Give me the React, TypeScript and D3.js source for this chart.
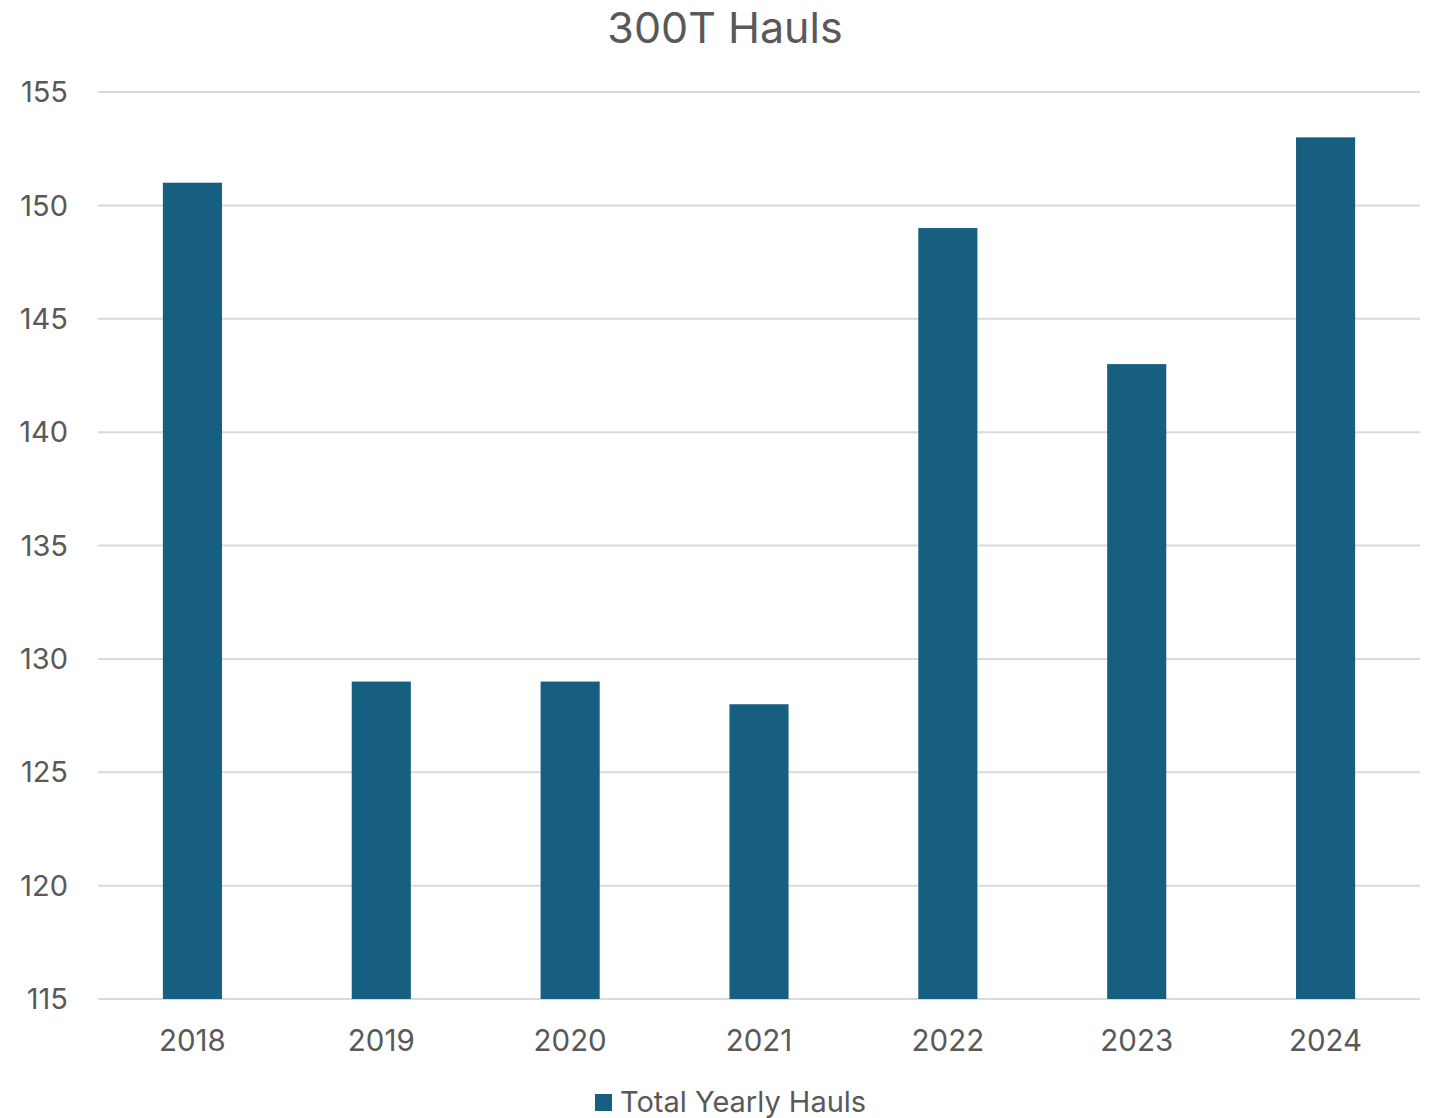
import React from "react";
import * as d3 from "d3";

const categories = ["2018", "2019", "2020", "2021", "2022", "2023", "2024"];
const values = [151, 129, 129, 128, 149, 143, 153];
const yTicks = [115, 120, 125, 130, 135, 140, 145, 150, 155];
const seriesName = "Total Yearly Hauls";
const title = "300T Hauls";

const W = 1430;
const H = 1118;
const left = 98;
const right = 1420;
const top = 92;
const bottom = 999;
const FONT = "Inter, 'Open Sans', sans-serif";
const TEXT = "#595959";
const BAR = "#175F80";

export default function App() {
  const x = d3
    .scaleBand<string>()
    .domain(categories)
    .range([left, right])
    .paddingInner(0.687)
    .paddingOuter(0.3435);
  const y = d3.scaleLinear().domain([115, 155]).range([bottom, top]);

  return (
    <svg
      width={W}
      height={H}
      style={{ position: "absolute", left: 0, top: 0, background: "#fff" }}
      fontFamily={FONT}
    >
      <text x={725} y={43} textAnchor="middle" fontSize={43} fill={TEXT}>
        {title}
      </text>
      {yTicks.map((t) => (
        <g key={t}>
          <line x1={left} x2={right} y1={y(t)} y2={y(t)} stroke="#D9D9D9" strokeWidth={2} />
          <text x={68} y={y(t)} dy="0.35em" textAnchor="end" fontSize={29} fill={TEXT}>
            {t}
          </text>
        </g>
      ))}
      {categories.map((c, i) => (
        <g key={c}>
          <rect
            x={x(c)}
            y={y(values[i])}
            width={x.bandwidth()}
            height={y(115) - y(values[i])}
            fill={BAR}
          />
          <text
            x={(x(c) as number) + x.bandwidth() / 2}
            y={1051}
            textAnchor="middle"
            fontSize={29.5}
            fill={TEXT}
          >
            {c}
          </text>
        </g>
      ))}
      <rect x={595} y={1094} width={17} height={17} fill={BAR} />
      <text x={620} y={1112} fontSize={29} fill={TEXT}>
        {seriesName}
      </text>
    </svg>
  );
}
